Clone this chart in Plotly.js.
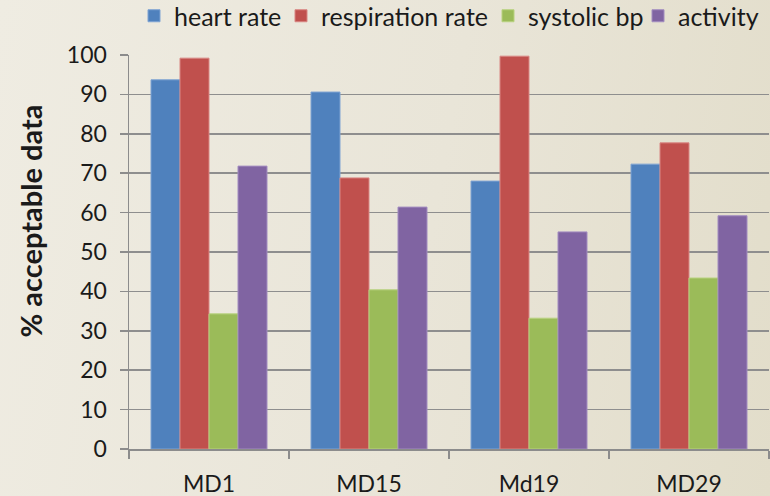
<!DOCTYPE html>
<html>
<head>
<meta charset="utf-8">
<script src="https://cdn.plot.ly/plotly-3.0.1.min.js"></script>
<style>
html,body{margin:0;padding:0;}
body{width:770px;height:496px;background:linear-gradient(100deg,#efece2 0%,#e9e5d8 55%,#e2ddca 100%);}
#chart{width:770px;height:496px;}
</style>
</head>
<body>
<div id="chart"></div>
<script>
const categories = ["MD1", "MD15", "Md19", "MD29"];
const seriesNames = ["heart rate", "respiration rate", "systolic bp", "activity"];
const heartRate = [93.7, 90.6, 68.0, 72.3];
const respirationRate = [99.2, 68.8, 99.7, 77.7];
const systolicBp = [34.3, 40.4, 33.2, 43.4];
const activity = [71.8, 61.4, 55.1, 59.2];
const colors = ["#4f81bd", "#c0504d", "#9bbb59", "#8064a2"];
const edgeColors = ["#7ea3d3", "#d98683", "#b8d27f", "#a28cc0"];
const yTicks = [0, 10, 20, 30, 40, 50, 60, 70, 80, 90, 100];
const yTitle = "% acceptable data";

const W = 770, H = 496;
const M = {l: 129, r: 1, t: 55, b: 47};
const pw = W - M.l - M.r, ph = H - M.t - M.b;
const px2x = p => (p - M.l) / pw;
const px2y = p => (H - M.b - p) / ph;

// legend entry text start positions (px), one legend per series
const legendTextX = [174, 321, 528, 678];
const legendIds = ["legend", "legend2", "legend3", "legend4"];

const values = [heartRate, respirationRate, systolicBp, activity];
const traces = values.map((v, i) => ({
  type: "bar",
  name: seriesNames[i],
  x: categories,
  y: v,
  legend: legendIds[i],
  marker: {color: colors[i], line: {color: edgeColors[i], width: 1}},
  hoverinfo: "x+y+name"
}));

const font = "Lato, 'Open Sans', sans-serif";
const layout = {
  width: W, height: H,
  paper_bgcolor: "rgba(0,0,0,0)",
  plot_bgcolor: "rgba(0,0,0,0)",
  margin: {l: M.l, r: M.r, t: M.t, b: M.b, pad: 0, autoexpand: false},
  barmode: "group",
  bargap: 0.275,
  bargroupgap: 0,
  font: {family: font, size: 23, color: "#1a1a1a"},
  showlegend: true,
  xaxis: {
    type: "category",
    showgrid: false,
    showline: true, linecolor: "#8c8c8c", linewidth: 1.5,
    ticks: "outside", tickson: "boundaries", ticklen: 8, tickcolor: "#8c8c8c", tickwidth: 1.5,
    tickfont: {family: font, size: 23, color: "#1a1a1a"},
    ticklabelstandoff: 14,
    zeroline: false,
    fixedrange: true
  },
  yaxis: {
    range: [0, 100],
    tickvals: yTicks,
    showgrid: true, gridcolor: "#8e8e8e", gridwidth: 1.5,
    showline: true, linecolor: "#8c8c8c", linewidth: 1.5,
    ticks: "outside", ticklen: 8, tickcolor: "#8c8c8c", tickwidth: 1.5,
    tickfont: {family: font, size: 23, color: "#1a1a1a"},
    ticklabelstandoff: 8,
    zeroline: false,
    fixedrange: true
  },
  annotations: [{
    text: yTitle,
    xref: "paper", yref: "paper",
    x: px2x(30), y: px2y(221.5),
    xanchor: "center", yanchor: "middle",
    textangle: -90, showarrow: false,
    font: {family: font, size: 29, color: "#1a1a1a", weight: "bold"}
  }]
};

legendIds.forEach((id, i) => {
  layout[id] = {
    orientation: "h",
    x: px2x(legendTextX[i] - 40), xanchor: "left",
    y: px2y(16), yanchor: "middle",
    font: {family: font, size: 25, color: "#1a1a1a"},
    bgcolor: "rgba(0,0,0,0)",
    borderwidth: 0
  };
});

Plotly.newPlot("chart", traces, layout, {displayModeBar: false, staticPlot: true});
</script>
</body>
</html>
